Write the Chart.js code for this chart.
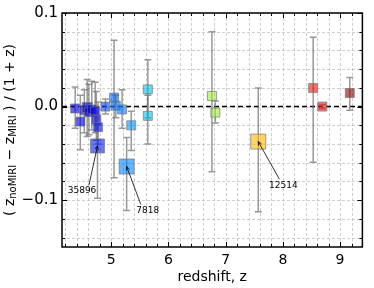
<!DOCTYPE html>
<html><head><meta charset="utf-8">
<script src="https://cdn.jsdelivr.net/npm/chart.js@4"></script>
<style>html,body{margin:0;padding:0;background:#fff}#c{display:block}</style>
</head><body>
<canvas id="c" width="374" height="288"></canvas>
<script>
// ---- data ----
const redshift = [4.37, 4.46, 4.53, 4.58, 4.61, 4.66, 4.72, 4.74, 4.77, 4.76, 4.90, 5.05, 5.08, 5.19, 5.27, 5.35, 5.64, 5.64, 6.76, 6.82, 7.57, 8.53, 8.69, 9.17];
const deltaZ   = [-0.002, -0.016, -0.004, -0.001, -0.006, -0.003, -0.005, -0.014, -0.022, -0.042, 0.000, 0.0096, 0.001, -0.003, -0.064, -0.020, 0.0184, -0.0099, 0.0114, -0.0064, -0.0374, 0.0198, 0.000, 0.0145];
const errLow   = [-0.023, -0.046, -0.028, -0.032, -0.030, -0.025, -0.028, -0.036, -0.040, -0.098, -0.008, -0.076, -0.012, -0.023, -0.111, -0.047, -0.012, -0.040, -0.0696, -0.0176, -0.1124, -0.0594, -0.002, -0.004];
const errHigh  = [0.021, 0.012, 0.018, 0.029, 0.024, 0.027, 0.026, 0.016, 0.005, -0.020, 0.008, 0.071, 0.012, 0.018, -0.033, -0.005, 0.050, 0.012, 0.080, 0.006, 0.0198, 0.074, 0.002, 0.031];
const xTickLabels = [5, 6, 7, 8, 9];
const yTickLabels = [-0.1, 0.0, 0.1];
const annotIds   = ['35896', '7818', '12514'];
const annotIndex = [9, 14, 20];
const annotTextX = [4.49, 5.64, 8.01];
const annotTextY = [-0.090, -0.111, -0.084];

// ---- styles (kept separate from data) ----
const pointColors = ['rgba(0,0,230,0.62)','rgba(0,0,230,0.62)','rgba(0,0,230,0.62)','rgba(0,0,230,0.62)','rgba(0,0,230,0.62)','rgba(0,0,230,0.62)','rgba(0,0,230,0.62)','rgba(0,0,230,0.62)','rgba(0,20,240,0.62)','rgba(0,30,245,0.6)','rgba(0,70,250,0.6)','rgba(0,105,255,0.6)','rgba(0,110,255,0.6)','rgba(0,125,255,0.6)','rgba(0,130,255,0.6)','rgba(0,150,255,0.6)','rgba(0,195,235,0.6)','rgba(0,195,235,0.6)','rgba(160,235,60,0.6)','rgba(160,235,60,0.6)','rgba(255,185,0,0.6)','rgba(230,20,20,0.6)','rgba(230,20,20,0.6)','rgba(135,0,0,0.6)'];
const pointSide = [9,9,9,10,9,9,9,9,9,14,9,9,9,9,15,9,9,9,9,9,15,9,9,9];
const annotStartDx = [7, -7, -4];

const FONT = '"DejaVu Sans", sans-serif';

const drawPlugin = {
  id: 'custom',
  beforeDatasetsDraw(chart) {
    const {ctx, chartArea: a, scales: {x, y}} = chart;
    ctx.save();
    ctx.strokeStyle = 'rgba(180,180,180,0.8)';
    ctx.lineWidth = 0.8;
    ctx.setLineDash([3, 2]);
    for (let m = 21; m <= 46; m++) {
      const v = m / 5;
      if (v <= x.min || v >= x.max) continue;
      const px = Math.round(x.getPixelForValue(v)) + 0.5;
      ctx.beginPath(); ctx.moveTo(px, a.top); ctx.lineTo(px, a.bottom); ctx.stroke();
    }
    for (let k = -7; k <= 5; k++) {
      const py = Math.round(y.getPixelForValue(k * 0.02)) + 0.5;
      ctx.beginPath(); ctx.moveTo(a.left, py); ctx.lineTo(a.right, py); ctx.stroke();
    }
    ctx.strokeStyle = '#000';
    ctx.lineWidth = 1.5;
    ctx.setLineDash([5, 3]);
    const y0 = y.getPixelForValue(0);
    ctx.beginPath(); ctx.moveTo(a.left, y0); ctx.lineTo(a.right, y0); ctx.stroke();
    ctx.setLineDash([]);
    ctx.strokeStyle = 'rgba(110,110,110,0.7)';
    ctx.lineWidth = 1.5;
    for (let i = 0; i < redshift.length; i++) {
      const px = x.getPixelForValue(redshift[i]);
      const pl = y.getPixelForValue(errLow[i]);
      const ph = y.getPixelForValue(errHigh[i]);
      ctx.beginPath();
      ctx.moveTo(px, pl); ctx.lineTo(px, ph);
      ctx.moveTo(px - 3.5, pl); ctx.lineTo(px + 3.5, pl);
      ctx.moveTo(px - 3.5, ph); ctx.lineTo(px + 3.5, ph);
      ctx.stroke();
    }
    ctx.restore();
  },
  afterDatasetsDraw(chart) {
    const {ctx, chartArea: a, scales: {x, y}} = chart;
    ctx.save();
    ctx.font = '9px ' + FONT;
    ctx.fillStyle = '#000';
    ctx.textAlign = 'center';
    ctx.textBaseline = 'middle';
    ctx.strokeStyle = '#000';
    ctx.lineWidth = 0.8;
    for (let k = 0; k < annotIds.length; k++) {
      const tx = x.getPixelForValue(annotTextX[k]);
      const ty = y.getPixelForValue(annotTextY[k]);
      ctx.fillText(annotIds[k], tx, ty);
      const i = annotIndex[k];
      const px = x.getPixelForValue(redshift[i]);
      const py = y.getPixelForValue(deltaZ[i]);
      const sx = tx + annotStartDx[k];
      const sy = ty - 6;
      const ang = Math.atan2(py - sy, px - sx);
      ctx.beginPath(); ctx.moveTo(sx, sy); ctx.lineTo(px, py); ctx.stroke();
      ctx.beginPath();
      ctx.moveTo(px - 4 * Math.cos(ang - 0.45), py - 4 * Math.sin(ang - 0.45));
      ctx.lineTo(px, py);
      ctx.lineTo(px - 4 * Math.cos(ang + 0.45), py - 4 * Math.sin(ang + 0.45));
      ctx.stroke();
    }
    ctx.strokeStyle = '#000';
    ctx.lineWidth = 1.5;
    ctx.strokeRect(a.left, a.top, a.right - a.left, a.bottom - a.top);
    ctx.lineWidth = 1;
    for (let m = 21; m <= 46; m++) {
      const v = m / 5;
      if (v < x.min || v > x.max) continue;
      const px = Math.round(x.getPixelForValue(v)) + 0.5;
      const len = (m % 5 === 0) ? 5 : 3;
      ctx.beginPath();
      ctx.moveTo(px, a.bottom); ctx.lineTo(px, a.bottom - len);
      ctx.moveTo(px, a.top); ctx.lineTo(px, a.top + len);
      ctx.stroke();
    }
    for (let k = -7; k <= 5; k++) {
      const py = Math.round(y.getPixelForValue(k * 0.02)) + 0.5;
      const len = (k % 5 === 0) ? 5 : 3;
      ctx.beginPath();
      ctx.moveTo(a.left, py); ctx.lineTo(a.left + len, py);
      ctx.moveTo(a.right, py); ctx.lineTo(a.right - len, py);
      ctx.stroke();
    }
    ctx.fillStyle = '#000';
    ctx.font = '14px ' + FONT;
    ctx.textAlign = 'center';
    ctx.textBaseline = 'middle';
    ctx.fillText('redshift, z', (a.left + a.right) / 2, 277);
    const parts = [
      ['( z', 14, 0], ['noMIRI', 10, 3], [' \u2212 z', 14, 0], ['MIRI', 10, 3], [' ) / (1 + z)', 14, 0]
    ];
    let total = 0;
    for (const p of parts) { ctx.font = p[1] + 'px ' + FONT; total += ctx.measureText(p[0]).width; }
    ctx.translate(10, (a.top + a.bottom) / 2);
    ctx.rotate(-Math.PI / 2);
    ctx.textAlign = 'left';
    let cx = -total / 2;
    for (const p of parts) {
      ctx.font = p[1] + 'px ' + FONT;
      ctx.fillText(p[0], cx, p[2]);
      cx += ctx.measureText(p[0]).width;
    }
    ctx.restore();
  }
};

new Chart(document.getElementById('c'), {
  type: 'scatter',
  data: {
    datasets: [{
      data: redshift.map((z, i) => ({x: z, y: deltaZ[i]})),
      pointStyle: 'rect',
      pointRadius: pointSide.map(s => s / 1.4142),
      pointHoverRadius: pointSide.map(s => s / 1.4142),
      backgroundColor: pointColors,
      borderColor: 'rgba(120,120,120,0.7)',
      borderWidth: 1
    }]
  },
  options: {
    responsive: false,
    animation: false,
    events: [],
    layout: {padding: {top: 10, right: 5, left: 0, bottom: 0}},
    plugins: {legend: {display: false}, tooltip: {enabled: false}},
    scales: {
      x: {
        type: 'linear', min: 4.14, max: 9.39,
        afterBuildTicks: s => { s.ticks = xTickLabels.map(v => ({value: v})); },
        afterFit: s => { s.height = 41; },
        grid: {display: false, drawTicks: false},
        border: {display: false},
        ticks: {padding: 5, color: '#000', font: {family: FONT, size: 14}, callback: v => String(v)}
      },
      y: {
        type: 'linear', min: -0.15, max: 0.1,
        afterBuildTicks: s => { s.ticks = yTickLabels.map(v => ({value: v})); },
        afterFit: s => { s.width = 62; },
        grid: {display: false, drawTicks: false},
        border: {display: false},
        ticks: {padding: 4, color: '#000', font: {family: FONT, size: 15}, callback: v => (Math.abs(v) < 1e-9 ? '0.0' : v.toFixed(1).replace('-', '\u2212'))}
      }
    }
  },
  plugins: [drawPlugin]
});
</script>
</body></html>
